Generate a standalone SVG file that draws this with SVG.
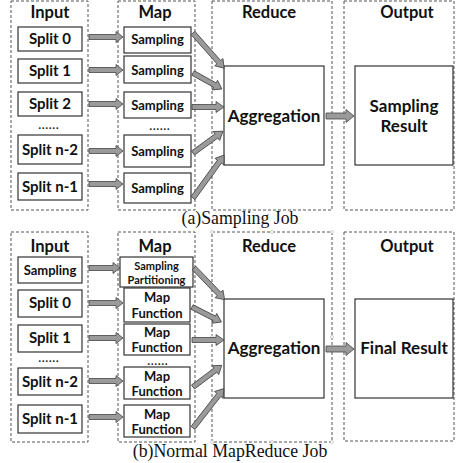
<svg xmlns="http://www.w3.org/2000/svg" width="456" height="463" viewBox="0 0 456 463">
<style>
.bg{fill:#fff}
.stage{fill:none;stroke:#555;stroke-width:1;stroke-dasharray:3,2}
.box{fill:#fff;stroke:#333;stroke-width:1.2}
.t{font-family:Lato,"Open Sans",sans-serif;font-weight:bold;fill:#111;text-anchor:middle}
.h{font-size:16.5px}
.s{font-size:15px}
.m{font-size:13px}
.sm{font-size:11px}
.dots{font-size:10.5px;font-weight:900;letter-spacing:1px}
.big{font-size:17px}
.cap{font-family:"Liberation Serif",serif;font-size:17.8px;fill:#111;text-anchor:middle}
.arr{fill:#9a9a9a;stroke:#444;stroke-width:0.8}
.hd{fill:#fff;stroke:#bbb;stroke-width:0.7}
</style>
<rect class="bg" width="456" height="463"/>

<!-- (a) Sampling Job -->
<g id="stages-a">
<rect class="stage" x="11" y="1" width="77" height="209"/>
<rect class="stage" x="118" y="1" width="77" height="209"/>
<rect class="stage" x="212" y="1" width="120" height="209"/>
<rect class="stage" x="344" y="1" width="110" height="209"/>
<text class="t h" x="50" y="18">Input</text>
<text class="t h" x="155" y="18">Map</text>
<text class="t h" x="269" y="18">Reduce</text>
<text class="t h" x="407" y="18">Output</text>
</g>
<g id="a-split0"><rect class="box" x="18" y="27" width="64" height="24"/><text class="t s" x="50" y="44">Split 0</text></g>
<g id="a-split1"><rect class="box" x="18" y="59" width="64" height="24"/><text class="t s" x="50" y="76">Split 1</text></g>
<g id="a-split2"><rect class="box" x="18" y="92" width="64" height="24"/><text class="t s" x="50" y="109">Split 2</text></g>
<text class="t dots" x="49" y="129">......</text>
<g id="a-splitn2"><rect class="box" x="18" y="135" width="64" height="29"/><text class="t s" x="50" y="155">Split n-2</text></g>
<g id="a-splitn1"><rect class="box" x="18" y="173" width="64" height="27"/><text class="t s" x="50" y="192">Split n-1</text></g>

<g id="a-map0"><rect class="box" x="124" y="27" width="67" height="26"/><text class="t m" x="157.5" y="44">Sampling</text></g>
<g id="a-map1"><rect class="box" x="124" y="56" width="67" height="27"/><text class="t m" x="157.5" y="75">Sampling</text></g>
<g id="a-map2"><rect class="box" x="124" y="92" width="67" height="26"/><text class="t m" x="157.5" y="110">Sampling</text></g>
<text class="t dots" x="160" y="130">......</text>
<g id="a-map3"><rect class="box" x="124" y="135" width="67" height="32"/><text class="t m" x="157.5" y="156">Sampling</text></g>
<g id="a-map4"><rect class="box" x="124" y="173" width="67" height="30"/><text class="t m" x="157.5" y="193">Sampling</text></g>

<g id="a-agg"><rect class="box" x="224" y="66" width="100" height="99"/><text class="t big" x="274" y="122">Aggregation</text></g>
<g id="a-result"><rect class="box" x="355" y="66" width="98" height="99"/><text class="t big" x="404" y="112">Sampling</text><text class="t big" x="404" y="132">Result</text></g>

<text class="cap" x="240" y="224">(a)Sampling Job</text>

<!-- (b) Normal MapReduce Job -->
<g id="stages-b">
<rect class="stage" x="11" y="232" width="77" height="210"/>
<rect class="stage" x="118" y="232" width="77" height="210"/>
<rect class="stage" x="212" y="232" width="120" height="210"/>
<rect class="stage" x="344" y="232" width="110" height="209"/>
<g>
<circle class="hd" cx="212" cy="232" r="1.5"/><circle class="hd" cx="272" cy="232" r="1.5"/><circle class="hd" cx="332" cy="232" r="1.5"/>
<circle class="hd" cx="212" cy="337" r="1.5"/><circle class="hd" cx="332" cy="337" r="1.5"/>
<circle class="hd" cx="212" cy="442" r="1.5"/><circle class="hd" cx="272" cy="442" r="1.5"/><circle class="hd" cx="332" cy="442" r="1.5"/>
</g>
<text class="t h" x="50" y="252">Input</text>
<text class="t h" x="155" y="252">Map</text>
<text class="t h" x="269" y="252">Reduce</text>
<text class="t h" x="407" y="252">Output</text>
</g>
<g id="b-sampling"><rect class="box" x="18" y="257" width="64" height="26"/><text class="t m" x="50" y="275">Sampling</text></g>
<g id="b-split0"><rect class="box" x="18" y="290" width="64" height="27"/><text class="t s" x="50" y="308">Split 0</text></g>
<g id="b-split1"><rect class="box" x="18" y="325" width="64" height="27"/><text class="t s" x="50" y="343">Split 1</text></g>
<text class="t dots" x="49" y="362">......</text>
<g id="b-splitn2"><rect class="box" x="18" y="368" width="64" height="27"/><text class="t s" x="50" y="387">Split n-2</text></g>
<g id="b-splitn1"><rect class="box" x="18" y="405" width="64" height="28"/><text class="t s" x="50" y="424">Split n-1</text></g>

<g id="b-partition"><rect class="box" x="120" y="257" width="73" height="30"/><text class="t sm" x="156.5" y="270">Sampling</text><text class="t sm" x="156.5" y="284">Partitioning</text></g>
<g id="b-map0"><rect class="box" x="124" y="288" width="66" height="34"/><text class="t m" x="157" y="302">Map</text><text class="t m" x="157" y="318">Function</text></g>
<g id="b-map1"><rect class="box" x="124" y="324" width="66" height="31"/><text class="t m" x="157" y="337">Map</text><text class="t m" x="157" y="352">Function</text></g>
<text class="t dots" x="158" y="365">......</text>
<g id="b-map2"><rect class="box" x="124" y="367" width="66" height="32"/><text class="t m" x="157" y="381">Map</text><text class="t m" x="157" y="396">Function</text></g>
<g id="b-map3"><rect class="box" x="124" y="405" width="66" height="32"/><text class="t m" x="157" y="419">Map</text><text class="t m" x="157" y="434">Function</text></g>

<g id="b-agg"><rect class="box" x="224" y="299" width="100" height="99"/><text class="t big" x="274" y="354">Aggregation</text></g>
<g id="b-result"><rect class="box" x="355" y="299" width="98" height="99"/><text class="t big" x="404" y="354">Final Result</text></g>

<text class="cap" x="230" y="457">(b)Normal MapReduce Job</text>

<g id="connectors">
<!-- (a) input -> map -->
<path class="arr" d="M0,-2.5H27V-5.5L34,0L27,5.5V2.5H0Z" transform="translate(89,37)"/>
<path class="arr" d="M0,-2.5H27V-5.5L34,0L27,5.5V2.5H0Z" transform="translate(89,70)"/>
<path class="arr" d="M0,-2.5H27V-5.5L34,0L27,5.5V2.5H0Z" transform="translate(89,104)"/>
<path class="arr" d="M0,-2.5H27V-5.5L34,0L27,5.5V2.5H0Z" transform="translate(89,151)"/>
<path class="arr" d="M0,-2.5H27V-5.5L34,0L27,5.5V2.5H0Z" transform="translate(89,184)"/>
<!-- (a) map -> aggregation -->
<path class="arr" d="M0,-2.5H39V-5.5L47,0L39,5.5V2.5H0Z" transform="translate(193,33) rotate(48.5)"/>
<path class="arr" d="M0,-2.5H25V-5.5L33,0L25,5.5V2.5H0Z" transform="translate(193,73) rotate(29)"/>
<path class="arr" d="M0,-2.5H24V-5.5L32,0L24,5.5V2.5H0Z" transform="translate(192,107)"/>
<path class="arr" d="M0,-2.5H29V-5.5L37,0L29,5.5V2.5H0Z" transform="translate(193,153) rotate(-36)"/>
<path class="arr" d="M0,-2.5H45V-5.5L53,0L45,5.5V2.5H0Z" transform="translate(193,198) rotate(-54)"/>
<!-- (a) aggregation -> result -->
<path class="arr" d="M0,-3H20V-6.5L28,0L20,6.5V3H0Z" transform="translate(326,116)"/>

<!-- (b) input -> map -->
<path class="arr" d="M0,-2.5H24V-5.5L31,0L24,5.5V2.5H0Z" transform="translate(89,268)"/>
<path class="arr" d="M0,-2.5H27V-5.5L34,0L27,5.5V2.5H0Z" transform="translate(89,303)"/>
<path class="arr" d="M0,-2.5H27V-5.5L34,0L27,5.5V2.5H0Z" transform="translate(89,338)"/>
<path class="arr" d="M0,-2.5H27V-5.5L34,0L27,5.5V2.5H0Z" transform="translate(89,381)"/>
<path class="arr" d="M0,-2.5H27V-5.5L34,0L27,5.5V2.5H0Z" transform="translate(89,417)"/>
<!-- (b) map -> aggregation -->
<path class="arr" d="M0,-2.5H36V-5.5L44,0L36,5.5V2.5H0Z" transform="translate(194,268) rotate(46)"/>
<path class="arr" d="M0,-2.5H25V-5.5L33,0L25,5.5V2.5H0Z" transform="translate(192,307) rotate(27)"/>
<path class="arr" d="M0,-2.5H24V-5.5L32,0L24,5.5V2.5H0Z" transform="translate(192,340)"/>
<path class="arr" d="M0,-2.5H28V-5.5L36,0L28,5.5V2.5H0Z" transform="translate(193,387) rotate(-37)"/>
<path class="arr" d="M0,-2.5H42V-5.5L50,0L42,5.5V2.5H0Z" transform="translate(193,428) rotate(-52)"/>
<!-- (b) aggregation -> final -->
<path class="arr" d="M0,-3H20V-6.5L28,0L20,6.5V3H0Z" transform="translate(326,349)"/>
</g>
</svg>
